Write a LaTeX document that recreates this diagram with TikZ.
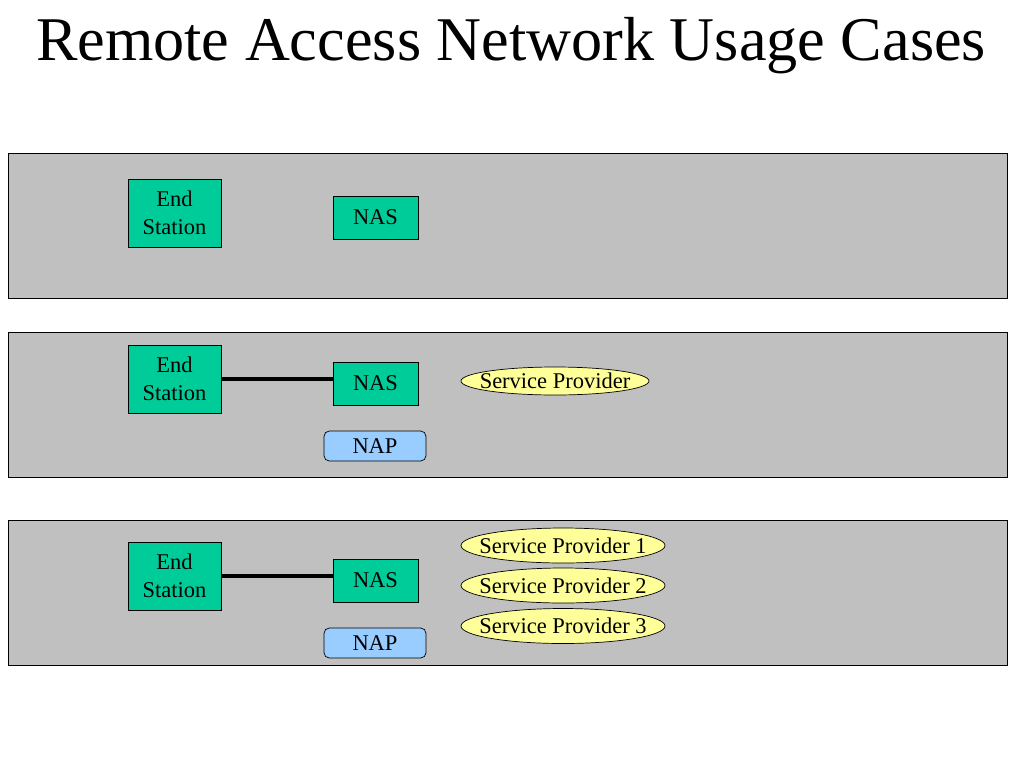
\documentclass[tikz,border=0pt]{standalone}
\usepackage{fontspec}
\setmainfont{Liberation Serif}
\usetikzlibrary{shapes.geometric}
\definecolor{panelc}{RGB}{192,192,192}
\definecolor{boxc}{RGB}{0,204,153}
\definecolor{napc}{RGB}{153,204,255}
\definecolor{spc}{RGB}{255,255,153}
\begin{document}
\begin{tikzpicture}[x=0.02cm,y=-0.02cm,
    panel/.style={draw=black,fill=panelc,line width=0.5pt},
    station/.style={draw=black,fill=boxc,align=center,inner sep=0pt,
      minimum width=1.86cm,minimum height=1.36cm,font=\fontsize{12.8}{15.8}\selectfont},
    nasbox/.style={draw=black,fill=boxc,inner sep=0pt,
      minimum width=1.7cm,minimum height=0.86cm,font=\fontsize{12.8}{14.5}\selectfont},
    napbox/.style={draw=black,fill=napc,rounded corners=3pt,inner sep=0pt,
      minimum width=2.04cm,minimum height=0.6cm,font=\fontsize{12.8}{14.5}\selectfont},
    prov/.style={draw=black,fill=spc,ellipse,inner sep=-1cm,
      font=\fontsize{12.8}{14.5}\selectfont},
    link/.style={line width=2.2pt}]
  \useasboundingbox (0,0) rectangle (1024,768);
  \node[font=\fontsize{35.4}{40}\selectfont] (title) at (511,46) {Remote Access Network Usage Cases};
  % three panels
  \draw[panel] (8,153) rectangle (1007,298);
  \draw[panel] (8,332) rectangle (1007,477);
  \draw[panel] (8,520) rectangle (1007,665);
  % case 1
  \node[station] (es1) at (174.5,213) {End\\Station};
  \node[nasbox] (nas1) at (375.5,217.5) {NAS};
  % case 2
  \node[station] (es2) at (174.5,379) {End\\Station};
  \node[nasbox] (nas2) at (375.5,383.5) {NAS};
  \node[napbox] (nap2) at (375,446) {NAP};
  \node[prov,minimum width=3.76cm,minimum height=0.56cm] (sp) at (555,381) {Service Provider};
  \draw[link] (es2.east) -- (es2.east -| nas2.west);
  % case 3
  \node[station] (es3) at (174.5,576) {End\\Station};
  \node[nasbox] (nas3) at (375.5,580.5) {NAS};
  \node[napbox] (nap3) at (375,643) {NAP};
  \foreach \k/\y in {1/545.5, 2/585.5, 3/626}
    {\node[prov,minimum width=4.08cm,minimum height=0.7cm] (sp\k) at (563,\y) {Service Provider \k};}
  \draw[link] (es3.east) -- (es3.east -| nas3.west);
\end{tikzpicture}
\end{document}
